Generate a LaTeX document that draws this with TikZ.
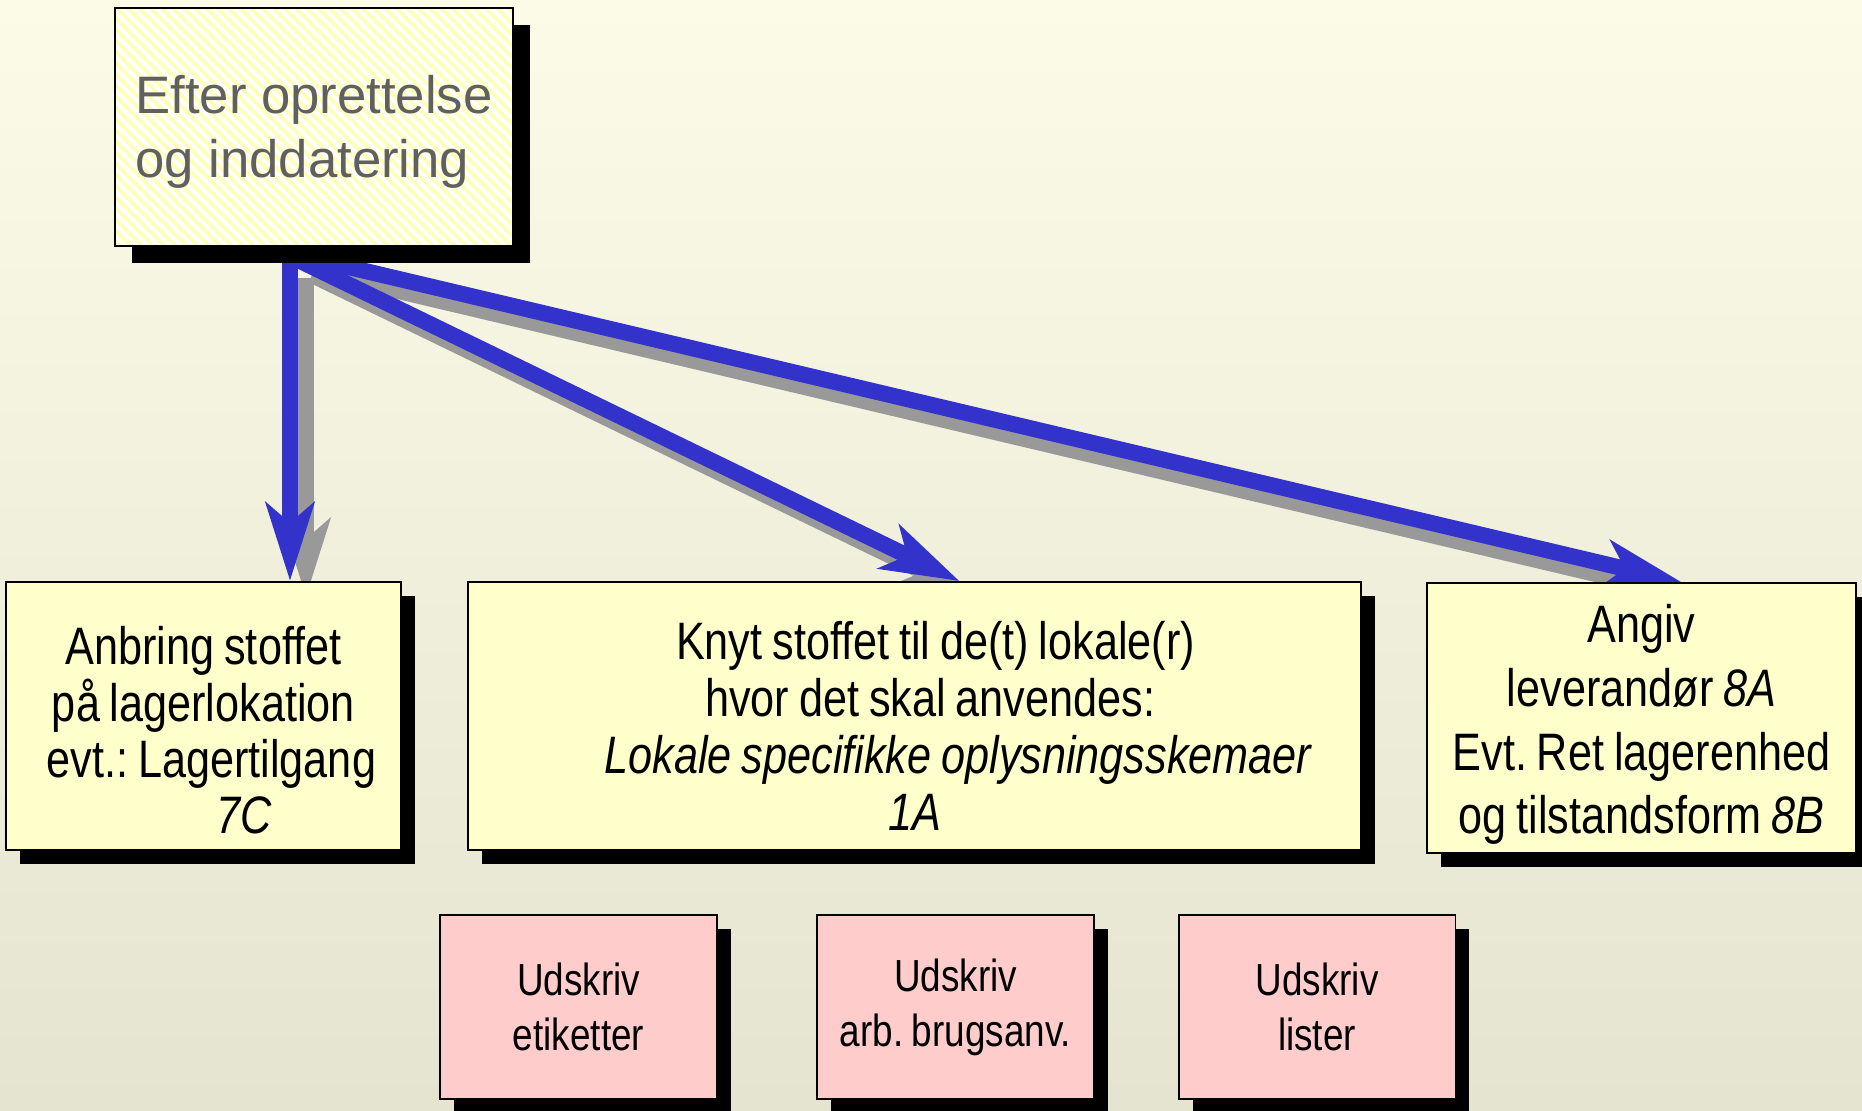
\documentclass[tikz,border=0pt]{standalone}
\usepackage{fontspec}
\setmainfont{Liberation Sans}
\newfontfamily\narrowsf[FakeStretch=0.82,WordSpace=0.82]{Liberation Sans}
\usetikzlibrary{arrows.meta,shadows,patterns.meta}
\frenchspacing
\pgfdeclarelayer{back}
\pgfdeclarelayer{mid}
\pgfsetlayers{back,mid,main}
\definecolor{boxyellow}{RGB}{255,255,204}
\definecolor{boxpink}{RGB}{255,204,204}
\definecolor{flowblue}{RGB}{51,51,204}
\definecolor{flowgray}{RGB}{153,153,153}
\definecolor{stripe}{RGB}{255,255,185}
\definecolor{bgtop}{RGB}{251,251,232}
\definecolor{bgbottom}{RGB}{229,228,209}
\definecolor{headgray}{RGB}{96,96,96}
\begin{document}
\begin{tikzpicture}[x=0.02cm,y=-0.02cm,
    box/.style={rectangle,draw,line width=1.1pt,inner sep=0pt,align=center,
      drop shadow={shadow xshift=#1,shadow yshift=-#1,fill=black,opacity=1}},
    box/.default=0.28cm,
    stepbox/.style={box,fill=boxyellow,minimum height=5.36cm,font=\narrowsf\fontsize{30pt}{32pt}\selectfont},
    printbox/.style={box,fill=boxpink,minimum width=5.54cm,minimum height=3.68cm,
      font=\narrowsf\fontsize{25.6pt}{31.3pt}\selectfont},
    flow/.style={line width=0.32cm,flowblue,-{Stealth[length=1.56cm,width=0.96cm,inset=0.4cm]}},
    flowshadow/.style={flow,flowgray,transform canvas={xshift=0.32cm,yshift=-0.32cm}}]
  \useasboundingbox (0,0) rectangle (1862,1110);
  \begin{pgfonlayer}{back}
    \shade[top color=bgtop,bottom color=bgbottom] (0,0) rectangle (1862,1110);
  \end{pgfonlayer}
  % start box
  \node[box=0.34cm,minimum width=7.96cm,minimum height=4.76cm,preaction={fill=white},
    pattern={Lines[angle=-45,distance=4.5pt,line width=2.2pt]},pattern color=stripe,
    text=headgray,align=left,font=\fontsize{30pt}{36.4pt}\selectfont] (efter) at (314,127)
    {\rule{0pt}{27pt}Efter oprettelse\\og inddatering};
  % steps
  \node[stepbox,minimum width=7.9cm] (anbring) at (203.5,716)
    {\rule{0pt}{38pt}Anbring stoffet\\på lagerlokation\\\hspace*{0.3em}evt.: Lagertilgang\\\hspace*{1.55em}\textit{7C}};
  \node[stepbox,minimum width=17.86cm,font=\narrowsf\fontsize{30pt}{32.4pt}\selectfont] (knyt) at (914.5,716)
    {\rule{0pt}{33pt}\hspace*{0.8em}Knyt stoffet til de(t) lokale(r)\\\hspace*{0.6em}hvor det skal anvendes:\\
     \hspace*{1.68em}\textit{Lokale specifikke oplysningsskemaer}\\\textit{1A}};
  \node[stepbox,minimum width=8.58cm,minimum height=5.4cm,font=\narrowsf\fontsize{30pt}{36.4pt}\selectfont] (angiv) at (1641.5,718)
    {\rule{0pt}{29pt}Angiv\\leverandør \textit{8A}\\Evt. Ret lagerenhed\\og tilstandsform \textit{8B}};
  % print jobs
  \node[printbox] (etiketter) at (578.5,1007) {Udskriv\\etiketter};
  \node[printbox] (brugsanv) at (955.5,1007) {Udskriv\\arb. brugsanv.};
  \node[printbox] (lister) at (1317,1007) {Udskriv\\lister};
  % arrows
  \begin{pgfonlayer}{mid}
    \coordinate (src1) at (290,262);
    \coordinate (src2) at (296,259);
    \coordinate (src3) at (306,257);
    \draw[flowshadow] (src1) -- (anbring.north -| src1);
    \draw[flowshadow] (src2) -- ([xshift=0.9cm]knyt.north);
    \draw[flowshadow] (src3) -- ([xshift=0.8cm]angiv.north);
    \draw[flow] (src1) -- (anbring.north -| src1);
    \draw[flow] (src2) -- ([xshift=0.9cm]knyt.north);
    \draw[flow] (src3) -- ([xshift=0.8cm]angiv.north);
  \end{pgfonlayer}
\end{tikzpicture}
\end{document}
